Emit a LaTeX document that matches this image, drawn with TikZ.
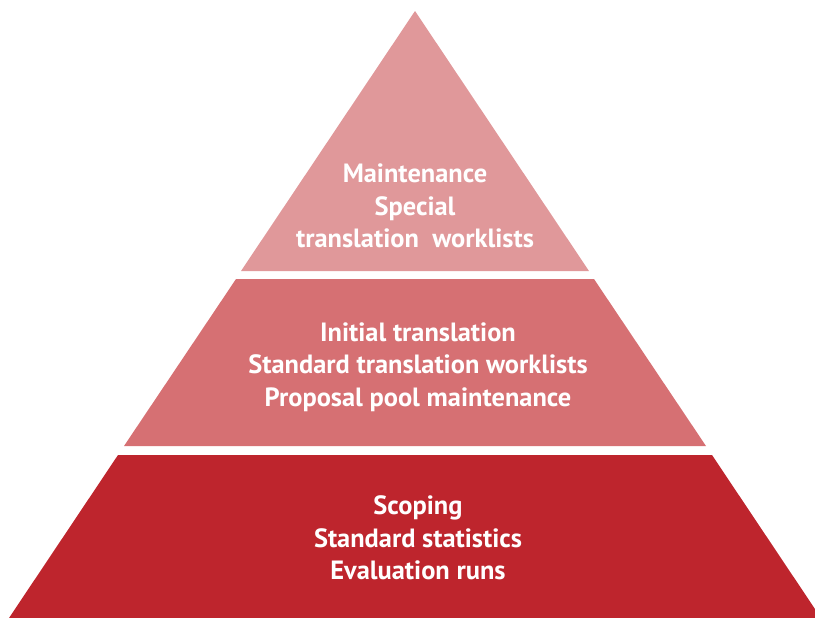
\documentclass[tikz,border=0pt]{standalone}
\usepackage{fontspec}
\setmainfont{PT Sans}
\definecolor{tiertop}{HTML}{E0989A}
\definecolor{tiermid}{HTML}{D67073}
\definecolor{tierbase}{HTML}{BE252D}
\begin{document}
\begin{tikzpicture}[x=0.75pt,y=-0.75pt,
  tiertext/.style={text=white,font=\bfseries\fontsize{19.8}{24.5}\selectfont,align=center}]
\useasboundingbox (0,0) rectangle (815,618);
\clip (0,0) rectangle (815,618);
% three tiers of the pyramid, sides sloping 0.669 px per px
\fill[tiertop]  (415,11) -- (589,271) -- (241,271) -- cycle;
\fill[tiermid]  (594,279) -- (706,446) -- (124,446) -- (236,279) -- cycle;
\fill[tierbase] (712,455) -- (821,618) -- (9,618) -- (118,455) -- cycle;
\node[tiertext] (top)  at (415,206) {Maintenance\\Special\\translation~ worklists};
\node[tiertext] (mid)  at (418,367) {Initial translation\\Standard translation worklists\\Proposal pool maintenance};
\node[tiertext] (base) at (418,538) {Scoping\\Standard statistics\\Evaluation runs};
\end{tikzpicture}
\end{document}
